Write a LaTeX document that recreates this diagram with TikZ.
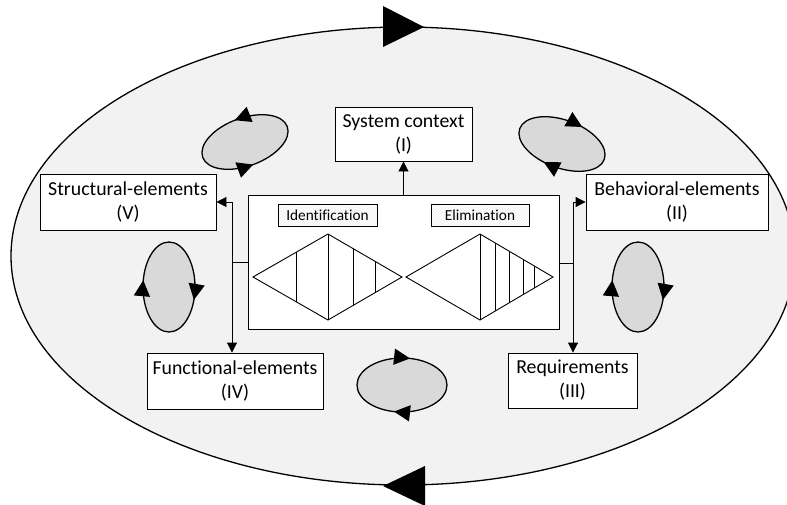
\documentclass[tikz,border=0pt]{standalone}
\usepackage{fontspec}
\setmainfont{Carlito}[Ligatures={NoCommon,NoContextual,NoRequired}]
\usetikzlibrary{arrows.meta,decorations.markings,patterns}
\definecolor{bgc}{HTML}{F2F2F2}
\definecolor{cycfill}{HTML}{D9D9D9}
\begin{document}
\begin{tikzpicture}[x=1pt,y=-1pt,
  elbox/.style={draw, fill=white, line width=0.9pt, align=center, inner sep=0pt,
    font=\fontsize{19.8}{24}\selectfont},
  lbl/.style={draw, line width=0.8pt, preaction={fill=white}, pattern=north east lines,
    pattern color=black!8, inner sep=0pt, font=\fontsize{15.3}{18}\selectfont,
    minimum height=22pt},
  conn/.style={line width=0.9pt, -{Triangle[length=10pt,width=10pt]}},
  plain/.style={line width=0.9pt},
  cyc/.style={draw, fill=cycfill, line width=1.3pt},
  tipa/.tip={Triangle[length=16pt,width=16pt]},
  cwmarks/.style 2 args={postaction={decorate,decoration={markings,
    mark=at position #1 with {\arrow{tipa}},
    mark=at position #2 with {\arrow{tipa}}}}},
  ccwmarks/.style 2 args={postaction={decorate,decoration={markings,
    mark=at position #1 with {\arrowreversed{tipa}},
    mark=at position #2 with {\arrowreversed{tipa}}}}}
]
\useasboundingbox (0,0) rectangle (787,504);
\fill[white] (0,0) rectangle (787,504);

% outer cycle
\draw[fill=bgc, line width=1.3pt] (403,256) ellipse [x radius=392, y radius=229];
\fill (383,6) -- (383,47) -- (424,27) -- cycle;
\fill (425,466) -- (425,506) -- (383,486) -- cycle;

% small cycles
\draw[cyc, ccwmarks={0.25}{0.74}] (245,142) ellipse [x radius=45, y radius=24, rotate=20];
\draw[cyc, cwmarks={0.30}{0.81}] (562,144) ellipse [x radius=45, y radius=24, rotate=-20];
\draw[cyc, cwmarks={0.057}{0.53}] (169,287) ellipse [x radius=26, y radius=45];
\draw[cyc, cwmarks={0.057}{0.53}] (638,287) ellipse [x radius=26, y radius=45];
\draw[cyc, cwmarks={0.285}{0.785}] (402,385) ellipse [x radius=45, y radius=27];

% boxes
\node[elbox, minimum width=137pt, minimum height=54pt] (sys) at (403.5,134) {System context\\(I)};
\node[elbox, minimum width=176pt, minimum height=56pt] (str) at (128,202) {Structural-elements\\(V)};
\node[elbox, minimum width=182pt, minimum height=56pt] (beh) at (677,202) {Behavioral-elements\\(II)};
\node[elbox, minimum width=176pt, minimum height=56pt] (fun) at (235,381) {Functional-elements\\(IV)};
\node[elbox, minimum width=129pt, minimum height=55pt] (req) at (572.5,380.5) {Requirements\\(III)};
\node[elbox, minimum width=311pt, minimum height=134pt] (ctr) at (403.5,262) {};
\node[lbl, minimum width=99pt] (ident) at (327.5,215) {Identification};
\node[lbl, minimum width=98pt] (elim) at (480,215) {Elimination};

% diamonds
\begin{scope}
\clip (253,277) -- (328,234) -- (402,277) -- (328,320) -- cycle;
\foreach \x in {296,328,353,375} \draw[plain] (\x,225) -- (\x,330);
\end{scope}
\draw[plain] (253,277) -- (328,234) -- (402,277) -- (328,320) -- cycle;
\begin{scope}
\clip (406,277) -- (480,234) -- (553,277) -- (480,320) -- cycle;
\foreach \x in {480,495,509,523,534} \draw[plain] (\x,225) -- (\x,330);
\end{scope}
\draw[plain] (406,277) -- (480,234) -- (553,277) -- (480,320) -- cycle;

% connectors
\draw[conn] (ctr.north) -- (sys.south);
\coordinate (jl) at (232,262);
\draw[plain] (ctr.west |- jl) -- (jl);
\draw[conn] (jl) |- (str.east);
\draw[conn] (jl) -- (jl |- fun.north);
\coordinate (jr) at (573,263);
\draw[plain] (ctr.east |- jr) -- (jr);
\draw[conn] (jr) |- (beh.west);
\draw[conn] (jr) -- (jr |- req.north);
\end{tikzpicture}
\end{document}
